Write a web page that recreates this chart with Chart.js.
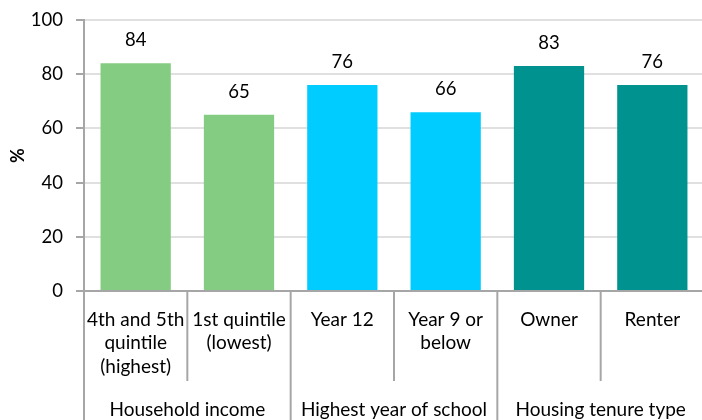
<!DOCTYPE html>
<html>
<head>
<meta charset="utf-8">
<script src="https://cdn.jsdelivr.net/npm/chart.js@4/dist/chart.umd.min.js"></script>
<style>
  body { margin: 0; overflow: hidden; background: #fff; }
  #wrap { position: absolute; left: 0; top: 0; width: 704px; height: 420px; }
</style>
</head>
<body>
<div id="wrap"><canvas id="grafico" width="704" height="420"></canvas></div>
<script>
// datos del grafico
const categories = [['4th and 5th', 'quintile', '(highest)'], ['1st quintile', '(lowest)'], ['Year 12'], ['Year 9 or', 'below'], ['Owner'], ['Renter']]
const values = [84, 65, 76, 66, 83, 76]
const groups = ['Household income', 'Highest year of school', 'Housing tenure type']
const groupSizes = [2, 2, 2]
const yTicks = [0, 20, 40, 60, 80, 100]

const fuente = 'Lato, "Open Sans", sans-serif'
const gris = '#a6a6a6'
const colores = ['#84cc82', '#84cc82', '#00ccff', '#00ccff', '#00928f', '#00928f']

// etiquetas encima de las barras
const etiquetas = {
  id: 'etiquetas',
  afterDatasetsDraw(chart) {
    const ctx = chart.ctx
    const meta = chart.getDatasetMeta(0)
    ctx.save()
    ctx.font = '18.5px ' + fuente
    ctx.fillStyle = '#000'
    ctx.textAlign = 'center'
    ctx.textBaseline = 'middle'
    meta.data.forEach((bar, i) => {
      ctx.fillText(values[i], bar.x, bar.y - 23)
    })
    ctx.restore()
  }
}

// separadores y grupos del eje x
const grupos = {
  id: 'grupos',
  afterDraw(chart) {
    const ctx = chart.ctx
    const x = chart.scales.x
    const ancho = (x.right - x.left) / categories.length
    ctx.save()
    ctx.strokeStyle = gris
    ctx.lineWidth = 2
    let limites = [0]
    groupSizes.reduce((acc, n) => { limites.push(acc + n); return acc + n }, 0)
    for (let i = 0; i <= categories.length; i++) {
      let px = x.left + i * ancho
      let fin = limites.includes(i) ? 420 : 381
      ctx.beginPath()
      ctx.moveTo(px, x.top)
      ctx.lineTo(px, fin)
      ctx.stroke()
    }
    ctx.font = '19px ' + fuente
    ctx.fillStyle = '#000'
    ctx.textAlign = 'center'
    ctx.textBaseline = 'middle'
    groups.forEach((g, i) => {
      let centro = x.left + (limites[i] + limites[i + 1]) / 2 * ancho
      ctx.fillText(g, centro, 410)
    })
    ctx.restore()
  }
}

const grafico = new Chart(document.getElementById('grafico').getContext('2d'), {
  type: 'bar',
  data: {
    labels: categories,
    datasets: [{
      data: values,
      backgroundColor: colores,
      barPercentage: 0.68,
      categoryPercentage: 1
    }]
  },
  options: {
    responsive: false,
    animation: false,
    layout: { padding: { top: 20, right: 0, left: 0, bottom: 0 } },
    plugins: {
      legend: { display: false },
      tooltip: { enabled: false }
    },
    scales: {
      x: {
        grid: { display: false },
        border: { color: gris, width: 2 },
        ticks: {
          color: '#000',
          padding: 9,
          font: { family: fuente, size: 19, lineHeight: 1.24 },
          maxRotation: 0,
          autoSkip: false
        },
        afterFit: (s) => { s.height = 129; s.paddingLeft = 0; s.paddingRight = 0 }
      },
      y: {
        min: 0,
        max: 100,
        afterBuildTicks: (s) => { s.ticks = yTicks.map(v => ({ value: v })) },
        grid: { color: '#e0e0e0', lineWidth: 2, tickColor: gris, tickLength: 8 },
        border: { color: gris, width: 2 },
        ticks: {
          color: '#000',
          padding: 13,
          font: { family: fuente, size: 18.5 }
        },
        title: {
          display: true,
          text: '%',
          color: '#000',
          padding: { top: 7, bottom: 0 },
          font: { family: fuente, size: 18, weight: 'bold' }
        },
        afterFit: (s) => { s.width = 84; s.paddingTop = 0; s.paddingBottom = 0 }
      }
    }
  },
  plugins: [etiquetas, grupos]
})
</script>
</body>
</html>
